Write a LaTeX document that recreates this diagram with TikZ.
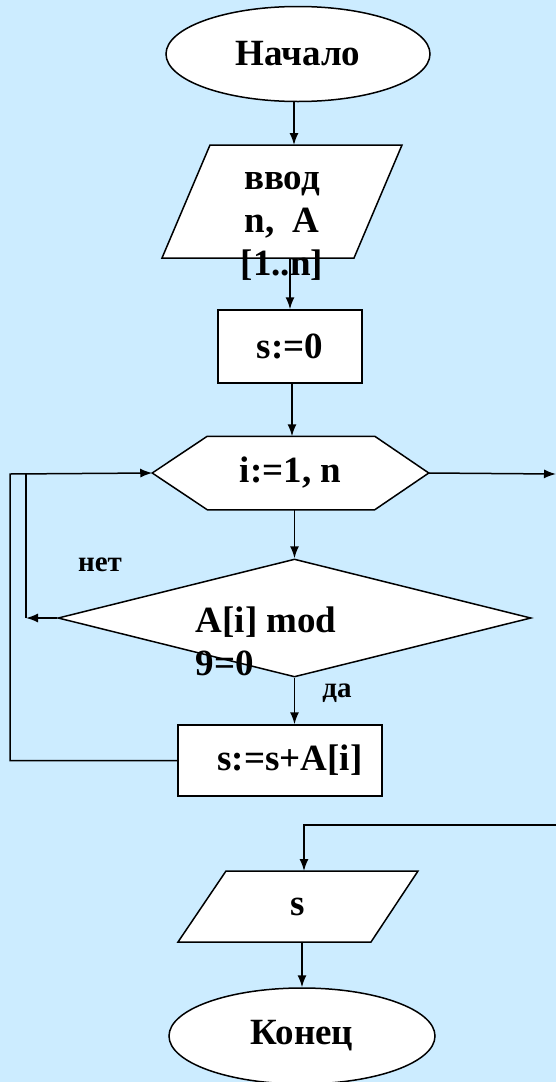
\documentclass[tikz,border=0pt]{standalone}
\usepackage{fontspec}
\setmainfont{Liberation Serif}
\usetikzlibrary{shapes.geometric,arrows.meta,calc}
\definecolor{bgblue}{RGB}{204,236,255}
\begin{document}
\begin{tikzpicture}[x=1pt,y=-1pt,
  line width=1.5pt,
  big/.style={font=\fontsize{37}{43}\selectfont\bfseries},
  small/.style={font=\fontsize{29}{34}\selectfont\bfseries},
  shapebox/.style={draw=black,fill=white,line width=1.5pt},
  arr/.style={-{Latex[length=12pt,width=9pt]},line width=1.5pt},
  term/.style={shapebox,ellipse,inner sep=0pt,big},
  procbox/.style={shapebox,rectangle,inner sep=0pt,big},
  txt/.style={inner sep=0pt,big}]
\fill[bgblue] (0,0) rectangle (556,1082);
\useasboundingbox (0,0) rectangle (556,1082);

% Start
\node[term,minimum width=264pt,minimum height=95pt] (start) at (298,54) {Начало};

% Input parallelogram
\filldraw[shapebox] (162,258) -- (210,145) -- (402,145) -- (354,258) -- cycle;
\coordinate (in1n) at (294,145);
\coordinate (in1s) at (290,258);
\node[txt,align=center] (in1) at (282,226) {ввод\\n,\ \ A\\{[1..n]}};

% s:=0
\node[procbox,minimum width=144pt,minimum height=73pt] (init) at (290,346.5) {s:=0};

% Loop hexagon
\node[txt,minimum width=275pt,minimum height=72pt] (loop) at (290.5,473) {};
\filldraw[shapebox] (loop.west) -- ($(loop.north west)+(55,0)$) -- ($(loop.north east)+(-54,0)$)
  -- (loop.east) -- ($(loop.south east)+(-54,0)$) -- ($(loop.south west)+(55,0)$) -- cycle;
\node[txt] (looptxt) at (290.5,473) {i:=1, n};

% Condition diamond
\node[shapebox,diamond,inner sep=0pt,minimum width=473pt,minimum height=118pt] (cond) at (294.5,618) {};
\node[txt,align=left,anchor=west] (condtxt) at (195,641) {A[i] mod\\9=0};

% body
\node[procbox,minimum width=204pt,minimum height=71pt] (body) at (280,760.5) {\hspace*{20pt}s:=s+A[i]};

% Output parallelogram
\filldraw[shapebox] (178,942) -- (226,871) -- (418,871) -- (371,942) -- cycle;
\coordinate (outn) at (304,871);
\coordinate (outs) at (302,942);
\node[txt] (out) at (298,907) {s};

% End
\node[term,minimum width=266pt,minimum height=96pt] (end) at (302,1036) {Конец};

% labels
\node[small] (no) at (100,565) {нет};
\node[small] (yes) at (337,693) {да};

% connectors
\coordinate (exitR) at (556,474);
\coordinate (exitR2) at (556,825);
\coordinate (lc) at (10,474);
\coordinate (noE) at (26,618);

\draw[arr] (start.south -| in1n) -- (in1n);
\draw[arr] (in1s) -- (in1s |- init.north);
\draw[arr] (init.south) ++(2,0) -- ($(init.south |- loop.north)+(2,0)$);
\draw[arr] (loop.east) -- (exitR);
\draw[arr] (cond.north |- loop.south) -- (cond.north);
\draw[arr] (cond.west) -- (noE);
\draw (noE) -- (noE |- lc);
\draw[arr] (body.west) -| (lc) -- (loop.west);
\draw[arr] (cond.south) -- (cond.south |- body.north);
\draw[arr] (exitR2) -| (outn);
\draw[arr] (outs) -- (outs |- end.north);
\end{tikzpicture}
\end{document}
